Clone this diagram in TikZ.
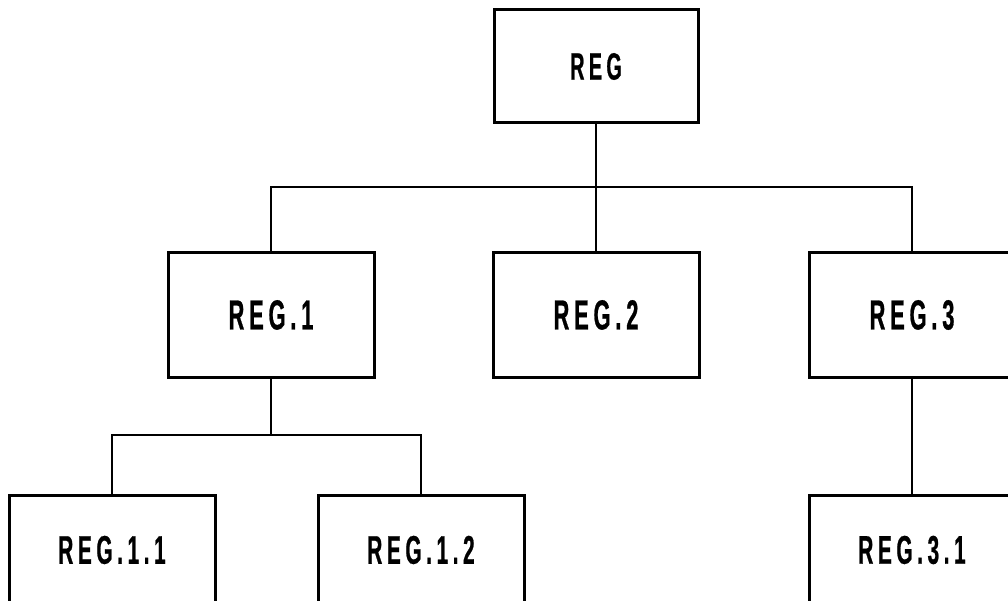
\documentclass[tikz,border=0pt]{standalone}
\usepackage{fontspec}
\newfontfamily\plotfont{Liberation Sans}[FakeStretch=0.52, LetterSpace=11.5, FakeBold=0.6]
\begin{document}
\begin{tikzpicture}[x=1pt,y=1pt,
  box/.style={draw, line width=3pt, rectangle, inner sep=0pt,
    font=\plotfont\bfseries\fontsize{42}{48}\selectfont},
  big/.style={box, minimum width=206pt, minimum height=124pt},
  top/.style={box, minimum width=204pt, minimum height=113pt,
    font=\plotfont\bfseries\fontsize{38}{44}\selectfont},
  low/.style={box, minimum width=206pt, minimum height=110pt,
    font=\plotfont\bfseries\fontsize{40}{46}\selectfont},
  link/.style={line width=2.8pt, line cap=rect}]
\useasboundingbox (0,0) rectangle (1008,-601);
\clip (0,0) rectangle (1008,-601);

% tree nodes
\node[top] (reg) at (596,-66.5) {REG};
\node[big] (r1) at (271,-315) {REG.1};
\node[big] (r2) at (596,-315) {REG.2};
\node[big] (r3) at (912,-315) {REG.3};
\node[low] (r11) at (112,-550) {REG.1.1};
\node[low] (r12) at (421,-550) {REG.1.2};
\node[low] (r31) at (912,-550) {REG.3.1};

% bus lines
\coordinate (bus1) at (0,-187);
\coordinate (bus2) at (0,-435);

\draw[link] (r1.north) |- (r3.north |- bus1) -- (r3.north);
\draw[link] (reg.south) -- (r2.north);
\draw[link] (r1.south) -- (r1.south |- bus2);
\draw[link] (r11.north) |- (r12.north |- bus2) -- (r12.north);
\draw[link] (r3.south) -- (r31.north);
\end{tikzpicture}
\end{document}
